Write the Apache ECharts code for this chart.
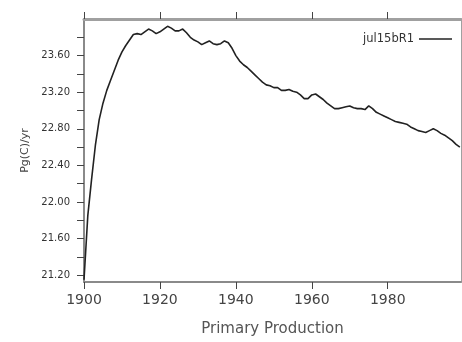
<!DOCTYPE html>
<html><head><meta charset="utf-8">
<script src="https://cdn.jsdelivr.net/npm/echarts@6/dist/echarts.min.js"></script>
<style>html,body{margin:0;padding:0;background:#fff}#c{width:462px;height:342px}</style>
</head><body><div id="c"></div>
<script>
const years = [];
for (let y = 1900; y <= 1999; y++) years.push(y);
const production = [
21.15,21.85,22.25,22.62,22.90,23.08,23.22,23.33,23.44,23.55,
23.64,23.71,23.77,23.83,23.84,23.83,23.86,23.89,23.87,23.84,
23.86,23.89,23.92,23.90,23.87,23.87,23.89,23.85,23.80,23.77,
23.75,23.72,23.74,23.76,23.73,23.72,23.73,23.76,23.74,23.68,
23.60,23.54,23.50,23.47,23.43,23.39,23.35,23.31,23.28,23.27,
23.25,23.25,23.22,23.22,23.23,23.21,23.20,23.17,23.13,23.13,
23.17,23.18,23.15,23.12,23.08,23.05,23.02,23.02,23.03,23.04,
23.05,23.03,23.02,23.02,23.01,23.05,23.02,22.98,22.96,22.94,
22.92,22.90,22.88,22.87,22.86,22.85,22.82,22.80,22.78,22.77,
22.76,22.78,22.80,22.78,22.75,22.73,22.70,22.67,22.63,22.60
];
const xTickValues = [1900, 1920, 1940, 1960, 1980];
const yLabelValues = [21.2, 21.6, 22.0, 22.4, 22.8, 23.2, 23.6];
const yTickValues = [21.2, 21.4, 21.6, 21.8, 22.0, 22.2, 22.4, 22.6, 22.8, 23.0, 23.2, 23.4, 23.6, 23.8];
const seriesName = 'jul15bR1';

const chart = echarts.init(document.getElementById('c'));
const axisGray = '#8a8a8a';
chart.setOption({
  animation: false,
  grid: {left: 84, right: 1, top: 19, bottom: 57},
  legend: {
    data: [{name: seriesName, icon: 'rect'}], right: 5, top: 28, align: 'right',
    itemWidth: 33, itemHeight: 1.5, itemGap: 7,
    textStyle: {fontFamily: 'DejaVu Sans', fontSize: 11.5, color: '#333'}
  },
  xAxis: [{
    type: 'value', min: 1900, max: 1999.3,
    name: 'Primary Production', nameLocation: 'middle', nameGap: 40,
    nameTextStyle: {fontFamily: 'DejaVu Sans', fontSize: 15, color: '#555'},
    axisLine: {show: true, lineStyle: {color: axisGray, width: 2}},
    axisTick: {show: true, customValues: xTickValues, length: 7, lineStyle: {color: '#444', width: 1}},
    axisLabel: {customValues: xTickValues, margin: 11, fontFamily: 'DejaVu Sans', fontSize: 14, color: '#444',
      formatter: v => String(v)},
    splitLine: {show: false}
  }, {
    type: 'value', min: 1900, max: 1999.3, position: 'top',
    axisLine: {show: true, lineStyle: {color: '#a0a0a0', width: 3}},
    axisTick: {show: true, customValues: xTickValues, length: 7, lineStyle: {color: '#444', width: 1}},
    axisLabel: {show: false}, splitLine: {show: false}
  }],
  yAxis: [{
    type: 'value', min: 21.125, max: 24.0,
    name: 'Pg(C)/yr', nameLocation: 'middle', nameGap: 53,
    nameTextStyle: {fontFamily: 'DejaVu Sans', fontSize: 11, color: '#444'},
    axisLine: {show: true, lineStyle: {color: axisGray, width: 2}},
    axisTick: {show: true, customValues: yTickValues, length: 7, lineStyle: {color: '#444', width: 1}},
    axisLabel: {customValues: yLabelValues, margin: 14, fontFamily: 'DejaVu Sans', fontSize: 10, color: '#333',
      formatter: v => v.toFixed(2)},
    splitLine: {show: false}
  }, {
    type: 'value', min: 21.125, max: 24.0, position: 'right',
    axisLine: {show: true, lineStyle: {color: '#a0a0a0', width: 1}},
    axisTick: {show: false}, axisLabel: {show: false}, splitLine: {show: false}
  }],
  series: [{
    name: seriesName, type: 'line', symbol: 'none',
    data: years.map((y, i) => [y, production[i]]),
    lineStyle: {color: '#222', width: 1.6}, itemStyle: {color: '#222'}
  }]
});
</script></body></html>
